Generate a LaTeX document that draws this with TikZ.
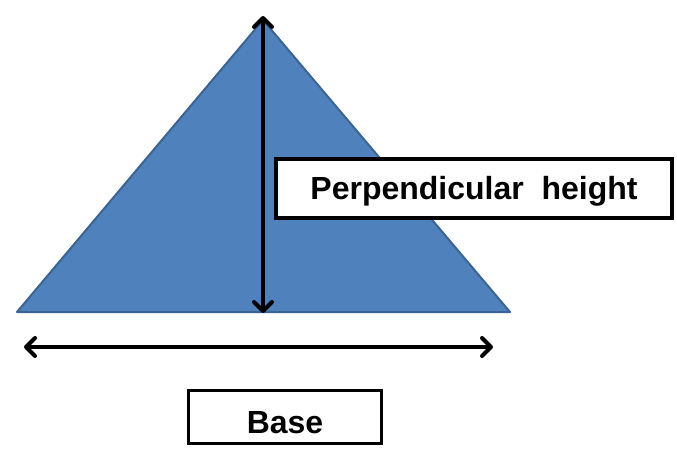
\documentclass[tikz,border=0pt]{standalone}
\usepackage{fontspec}
\setmainfont{Liberation Sans}
\usetikzlibrary{arrows.meta}
\definecolor{triblue}{HTML}{4F81BD}
\definecolor{triedge}{HTML}{3B6495}
\begin{document}
\begin{tikzpicture}[x=1pt,y=-1pt,
  dimarrow/.style={line width=4pt,line cap=round,{Straight Barb[length=9pt,width=18pt,line cap=round,line join=round]}-{Straight Barb[length=9pt,width=18pt,line cap=round,line join=round]}},
  labelbox/.style={draw=black,line width=3.5pt,fill=white,inner sep=0pt,text depth=0pt,font=\bfseries\fontsize{32}{38}\selectfont}]
\useasboundingbox (0,0) rectangle (677,462);
\fill[white] (0,0) rectangle (677,462);
\coordinate (apex) at (263,20);
\coordinate (bl) at (17,312);
\coordinate (br) at (510,312);
\coordinate (foot) at (263,312);
\filldraw[fill=triblue,draw=triedge,line width=2pt,line join=round] (apex) -- (bl) -- (br) -- cycle;
\draw[dimarrow] ([yshift=4pt]apex) -- ([yshift=-1pt]foot);
\coordinate (hl) at (24,347);
\coordinate (hr) at (493,347);
\draw[dimarrow] (hl) -- (hr);
\node[labelbox,text height=23pt,minimum width=396pt,minimum height=59pt] (ph) at (474,188.5) {Perpendicular\ \ height};
\node[labelbox,text height=33pt,minimum width=193pt,minimum height=53pt] (base) at (285,417) {Base};
\end{tikzpicture}
\end{document}
